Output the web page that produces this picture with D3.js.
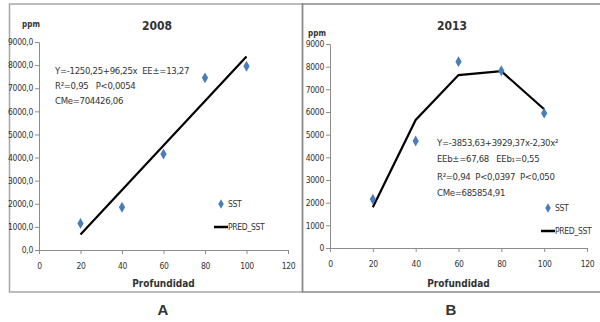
<!DOCTYPE html>
<html>
<head>
<meta charset="utf-8">
<script src="https://cdn.jsdelivr.net/npm/d3@7"></script>
<style>
  body { margin: 0; background: #fff; }
  svg { display: block; }
  text { font-family: "DejaVu Sans Condensed", "Liberation Sans", sans-serif; font-stretch: condensed; fill: #333; white-space: pre; }
</style>
</head>
<body>
<script>
// data
var profundidad = [20, 40, 60, 80, 100];
var sst2008 = [1150, 1850, 4150, 7450, 7950];
var pred2008 = [675, 2600, 4525, 6450, 8375];
var sst2013 = [2150, 4720, 8220, 7820, 5950];
var pred2013 = [1800, 5650, 7630, 7800, 6120];
var xTicks = [0, 20, 40, 60, 80, 100, 120];
var yTicks = [0, 1000, 2000, 3000, 4000, 5000, 6000, 7000, 8000, 9000];

var notasA = ["Y=-1250,25+96,25x  EE±=13,27", "R²=0,95   P<0,0054", "CMe=704426,06"];
var notasB = ["Y=-3853,63+3929,37x-2,30x²", "EEb±=67,68   EEb₁=0,55", "R²=0,94  P<0,0397  P<0,050", "CMe=685854,91"];

var svg = d3.select("body").append("svg")
    .attr("width", 600)
    .attr("height", 322);

// marcos
svg.append("rect").attr("x", 9.5).attr("y", 4).attr("width", 293).attr("height", 288)
   .attr("fill", "none").attr("stroke", "#a6a6a6").attr("stroke-width", 1.5);
svg.append("path").attr("d", "M302.5,3 V292 M302,4 H600 M302,292 H600")
   .attr("fill", "none").attr("stroke", "#8a8a8a").attr("stroke-width", 1.5);

function panel(cfg) {
  var x = d3.scaleLinear().domain([0, 120]).range([cfg.x0, cfg.x1]);
  var y = d3.scaleLinear().domain([0, 9000]).range([cfg.y0, cfg.y1]);
  var g = svg.append("g");

  var yAxis = g.append("g")
     .attr("transform", "translate(" + cfg.x0 + ",0)")
     .call(d3.axisLeft(y).tickValues(yTicks).tickSize(4).tickPadding(2).tickFormat(cfg.fmt));
  var xAxis = g.append("g")
     .attr("transform", "translate(0," + cfg.y0 + ")")
     .call(d3.axisBottom(x).tickValues(xTicks).tickSize(4).tickPadding(9));
  [yAxis, xAxis].forEach(function(a) {
    a.select(".domain").attr("stroke", "#8c8c8c");
    a.selectAll(".tick line").attr("stroke", "#8c8c8c");
    a.selectAll("text").attr("font-size", 8.5).attr("fill", "#444")
     .attr("letter-spacing", -0.3)
     .attr("font-family", "\"DejaVu Sans Condensed\", sans-serif");
  });

  // recta / curva ajustada
  g.append("path")
   .datum(profundidad.map(function(d, i) { return [d, cfg.pred[i]]; }))
   .attr("fill", "none").attr("stroke", "#000").attr("stroke-width", 2.2)
   .attr("d", d3.line().x(function(d) { return x(d[0]); }).y(function(d) { return y(d[1]); }));

  // puntos observados
  g.selectAll(".pt")
   .data(profundidad.map(function(d, i) { return [d, cfg.obs[i]]; }))
   .enter().append("path")
   .attr("transform", function(d) { return "translate(" + x(d[0]) + "," + y(d[1]) + ")"; })
   .attr("d", d3.symbol().type(d3.symbolDiamond).size(34))
   .attr("fill", "#4a7ebb");

  g.append("text").attr("x", cfg.titleX).attr("y", 30).attr("text-anchor", "middle")
   .attr("font-size", 12).attr("font-weight", "bold").attr("fill", "#222").text(cfg.title);
  g.append("text").attr("x", cfg.ppmX).attr("y", cfg.ppmY).attr("text-anchor", "middle")
   .attr("font-size", 8).attr("font-weight", "bold").attr("fill", "#222").text("ppm");
  g.append("text").attr("x", (cfg.x0 + cfg.x1) / 2).attr("y", 287).attr("text-anchor", "middle")
   .attr("font-size", 10).attr("font-weight", "bold").attr("fill", "#222").text("Profundidad");
  g.append("text").attr("x", cfg.letterX).attr("y", 315).attr("text-anchor", "middle")
   .attr("font-size", 15).attr("font-weight", "bold").attr("fill", "#000")
   .style("font-family", "\"Liberation Sans\", Arial, sans-serif").style("font-stretch", "normal").text(cfg.letter);

  g.selectAll(".nota").data(cfg.notas).enter().append("text")
   .attr("x", cfg.notaX).attr("y", function(d, i) { return cfg.notaY[i]; })
   .attr("font-size", 9.5).attr("letter-spacing", -0.3).attr("fill", "#333").text(function(d) { return d; });

  // leyenda
  var lg = g.append("g").attr("transform", "translate(" + cfg.legX + "," + cfg.legY + ")");
  lg.append("path").attr("transform", "translate(7,0)")
    .attr("d", d3.symbol().type(d3.symbolDiamond).size(26)).attr("fill", "#4a7ebb");
  lg.append("text").attr("x", 14).attr("y", 3).attr("font-size", 8.5).attr("letter-spacing", -0.3).text("SST");
  lg.append("line").attr("x1", 0).attr("x2", 14).attr("y1", 23).attr("y2", 23)
    .attr("stroke", "#000").attr("stroke-width", 2.5);
  lg.append("text").attr("x", 14).attr("y", 26).attr("font-size", 8.5).attr("letter-spacing", -0.3).text("PRED_SST");
}

panel({
  x0: 39, x1: 288, y0: 250, y1: 42,
  obs: sst2008, pred: pred2008,
  fmt: function(d) { return d3.format(".1f")(d).replace(".", ","); },
  title: "2008", titleX: 157, ppmX: 31, ppmY: 27,
  letter: "A", letterX: 163,
  notas: notasA, notaX: 55, notaY: [74, 89, 104],
  legX: 214, legY: 204
});

panel({
  x0: 330, x1: 587, y0: 248, y1: 44,
  obs: sst2013, pred: pred2013,
  fmt: function(d) { return String(d); },
  title: "2013", titleX: 452, ppmX: 317, ppmY: 36,
  letter: "B", letterX: 451,
  notas: notasB, notaX: 437, notaY: [146, 162, 180, 196],
  legX: 541, legY: 208
});
</script>
</body>
</html>
